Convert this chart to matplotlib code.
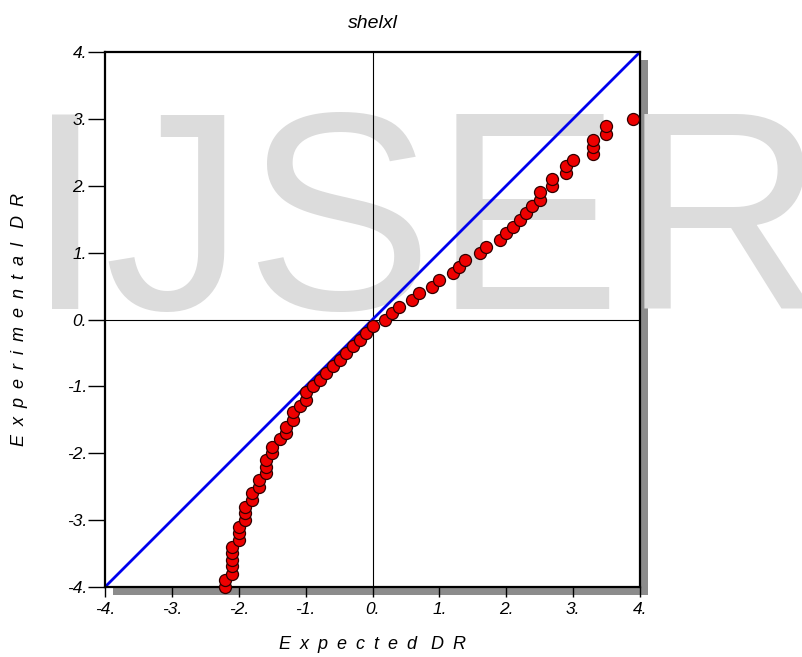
import matplotlib.pyplot as plt
from matplotlib.patches import Rectangle

# expected vs experimental DR
expected_dr = [
    -2.21, -2.20, -2.10, -2.10, -2.10, -2.10, -2.10, -2.00, -2.00, -2.00,
    -1.90, -1.90, -1.90, -1.80, -1.80, -1.69, -1.69, -1.60, -1.60, -1.60,
    -1.50, -1.50, -1.39, -1.30, -1.30, -1.19, -1.19, -1.09, -0.99, -0.99,
    -0.89, -0.79, -0.69, -0.59, -0.49, -0.39, -0.29, -0.19, -0.09, 0.00,
    0.19, 0.29, 0.39, 0.59, 0.69, 0.89, 1.00, 1.20, 1.29, 1.39,
    1.60, 1.69, 1.90, 2.00, 2.10, 2.20, 2.30, 2.39, 2.50, 2.50,
    2.69, 2.69, 2.90, 2.90, 3.00, 3.30, 3.30, 3.30, 3.49, 3.49, 3.90,
]
experimental_dr = [
    -4.00, -3.89, -3.80, -3.69, -3.60, -3.49, -3.40, -3.30, -3.19, -3.10,
    -3.00, -2.90, -2.80, -2.70, -2.60, -2.50, -2.40, -2.30, -2.20, -2.10,
    -2.00, -1.90, -1.79, -1.70, -1.60, -1.50, -1.39, -1.30, -1.20, -1.09,
    -0.99, -0.90, -0.80, -0.70, -0.60, -0.50, -0.40, -0.31, -0.20, -0.10,
    0.00, 0.09, 0.19, 0.29, 0.39, 0.49, 0.59, 0.69, 0.79, 0.89,
    0.99, 1.09, 1.19, 1.29, 1.39, 1.49, 1.59, 1.69, 1.79, 1.90,
    2.00, 2.10, 2.19, 2.29, 2.38, 2.48, 2.58, 2.68, 2.78, 2.89, 3.00,
]
ticks = [-4, -3, -2, -1, 0, 1, 2, 3, 4]
tick_labels = [f"{t}." for t in ticks]

plt.rcParams["font.family"] = ["Liberation Sans", "DejaVu Sans"]


def spaced(text):
    # wide letter spacing like the original axis titles
    sp = "\u2002"
    return (sp + " ").join(sp.join(word) for word in text.split())


fig = plt.figure(figsize=(8.02, 6.57), dpi=100)
ax = fig.add_axes([105 / 802, 70 / 657, 535 / 802, 535 / 657])
ax.set_facecolor("none")
ax.set_zorder(2)

# drop shadow behind the plot frame
fig.patches.append(Rectangle((113 / 802, 62 / 657), 535 / 802, 535 / 657,
                             transform=fig.transFigure, facecolor="#8c8c8c",
                             edgecolor="none", zorder=-2))
fig.patches.append(Rectangle((105 / 802, 70 / 657), 535 / 802, 535 / 657,
                             transform=fig.transFigure, facecolor="white",
                             edgecolor="none", zorder=-1))

# watermark
fig.text(0.032, (657 - 309) / 657, "IJSER", fontsize=203, color="#dcdcdc",
         ha="left", va="baseline", zorder=1)

ax.axhline(0, color="black", lw=0.8, zorder=1)
ax.axvline(0, color="black", lw=0.8, zorder=1)
ax.plot([-4, 4], [-4, 4], color="#0000ee", lw=2, zorder=2)
ax.scatter(expected_dr, experimental_dr, s=75, c="#ee0000",
           edgecolors="#300000", linewidths=0.9, zorder=3, clip_on=False)

ax.set_xlim(-4, 4)
ax.set_ylim(-4, 4)
ax.set_xticks(ticks)
ax.set_xticklabels(tick_labels, fontsize=12.5, fontstyle="italic")
ax.set_yticks(ticks)
ax.set_yticklabels(tick_labels, fontsize=12.5, fontstyle="italic")
ax.tick_params(axis="x", length=7.5, width=1, pad=3)
ax.tick_params(axis="y", length=12, width=1, pad=1)
for sp in ax.spines.values():
    sp.set_linewidth(1.6)

ax.set_xlabel(spaced("Expected DR"), fontsize=13, fontstyle="italic", labelpad=14)
ax.set_ylabel(spaced("Experimental DR"), fontsize=13, fontstyle="italic", labelpad=28)
ax.set_title("shelxl", fontsize=14, fontstyle="italic", pad=17)

fig.savefig("out.png", dpi=100)
